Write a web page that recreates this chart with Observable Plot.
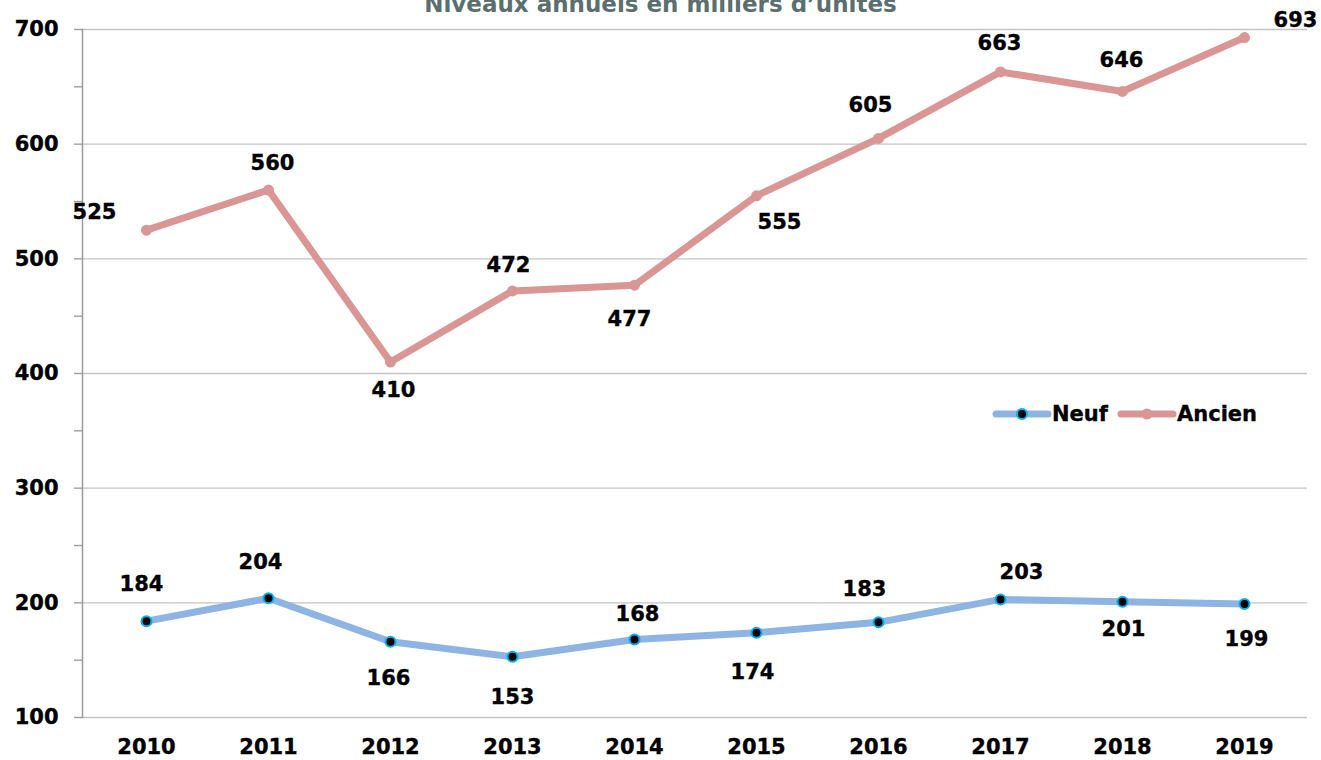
<!DOCTYPE html>
<html><head><meta charset="utf-8">
<script src="https://cdn.jsdelivr.net/npm/d3@7"></script>
<script src="https://cdn.jsdelivr.net/npm/@observablehq/plot@0.6"></script>
<style>
body{margin:0;background:#fff;overflow:hidden;font-family:"DejaVu Sans",Verdana,sans-serif;}
#wrap{position:relative;width:1321px;height:760px;}
#title{position:absolute;top:-9px;left:0;width:1321px;text-align:center;font-weight:bold;font-size:23px;color:#5b6f6f;line-height:26px;z-index:2;}
#legend{position:absolute;left:985px;top:399px;z-index:2;}
svg text{stroke:black;stroke-width:0.35px;}
</style></head>
<body>
<div id="wrap">
  <div id="title">Niveaux annuels en milliers d’unités</div>
  <div id="chart"></div>
  <svg id="legend" width="290" height="30"></svg>
</div>
<script>
const years = [2010, 2011, 2012, 2013, 2014, 2015, 2016, 2017, 2018, 2019];
const neuf = [184, 204, 166, 153, 168, 174, 183, 203, 201, 199];
const ancien = [525, 560, 410, 472, 477, 555, 605, 663, 646, 693];
const yTicks = [100, 200, 300, 400, 500, 600, 700];
const yMinorTicks = [100, 150, 200, 250, 300, 350, 400, 450, 500, 550, 600, 650, 700];
const seriesNames = ["Neuf", "Ancien"];

// label placement (layout only)
const ancienOffsets = [[-52,-18],[4,-27],[3,28],[-4,-26],[-5,34],[23,26],[-8,-33],[-1,-29],[-1,-31],[51,-17]];
const neufOffsets = [[-5,-37],[-8,-36],[-2,36],[0,41],[3,-25],[-4,40],[-14,-33],[21,-27],[1,28],[2,35]];

const colAncien = "#D99694";
const colNeuf = "#8DB4E2";

const dAncien = years.map((y,i)=>({year:y, value:ancien[i]}));
const dNeuf = years.map((y,i)=>({year:y, value:neuf[i]}));

const labelMarks = [];
dAncien.forEach((d,i)=>labelMarks.push(Plot.text([d],{x:"year",y:"value",text:d=>String(d.value),dx:ancienOffsets[i][0],dy:ancienOffsets[i][1],fill:"black"})));
dNeuf.forEach((d,i)=>labelMarks.push(Plot.text([d],{x:"year",y:"value",text:d=>String(d.value),dx:neufOffsets[i][0],dy:neufOffsets[i][1],fill:"black"})));

const chart = Plot.plot({
  width: 1321,
  height: 760,
  marginLeft: 82,
  marginRight: 14,
  marginTop: 29,
  marginBottom: 43,
  style: {fontFamily: "'DejaVu Sans', Verdana, sans-serif", fontSize: "21px", fontWeight: "bold", color: "black", background: "white"},
  x: {type: "point", domain: years, padding: 0.5, label: null},
  y: {domain: [100, 700], label: null},
  marks: [
    Plot.gridY(yTicks, {stroke: "#c4c4c4", strokeOpacity: 1, strokeWidth: 1.3}),
    Plot.axisY(yMinorTicks, {text: null, tickSize: 8, stroke: "#9a9a9a", strokeWidth: 1.3, label: null}),
    Plot.frame({anchor: "left", stroke: "#9a9a9a", strokeWidth: 1.5}),
    Plot.axisY(yTicks, {tickSize: 0, tickPadding: 24, tickFormat: d => String(d), fill: "black", label: null}),
    Plot.axisX({tickSize: 0, tickPadding: 22, tickFormat: d => String(d), fill: "black", label: null}),
    Plot.line(dAncien, {x: "year", y: "value", stroke: colAncien, strokeWidth: 7}),
    Plot.dot(dAncien, {x: "year", y: "value", r: 5.5, fill: colAncien}),
    Plot.line(dNeuf, {x: "year", y: "value", stroke: colNeuf, strokeWidth: 7}),
    Plot.dot(dNeuf, {x: "year", y: "value", r: 5, fill: "black", stroke: "#00B0F0", strokeWidth: 2}),
    ...labelMarks
  ]
});
document.getElementById("chart").appendChild(chart);

// legend
const lg = d3.select("#legend");
const items = [
  {name: seriesNames[0], color: colNeuf, x0: 8, dotFill: "black", dotStroke: "#00B0F0", tx: 67},
  {name: seriesNames[1], color: colAncien, x0: 133, dotFill: colAncien, dotStroke: "none", tx: 192}
];
items.forEach(it => {
  lg.append("line").attr("x1", it.x0+3).attr("x2", it.x0+55).attr("y1", 15).attr("y2", 15)
    .attr("stroke", it.color).attr("stroke-width", 7).attr("stroke-linecap", "round");
  lg.append("circle").attr("cx", it.x0+29).attr("cy", 15).attr("r", it.dotStroke === "none" ? 5.5 : 5)
    .attr("fill", it.dotFill).attr("stroke", it.dotStroke).attr("stroke-width", 2);
  lg.append("text").attr("x", it.tx).attr("y", 15).attr("dy", "0.35em")
    .attr("font-family", "'DejaVu Sans', Verdana, sans-serif").attr("font-size", 21).attr("font-weight", "bold")
    .attr("fill", "black").text(it.name);
});
</script>
</body></html>
